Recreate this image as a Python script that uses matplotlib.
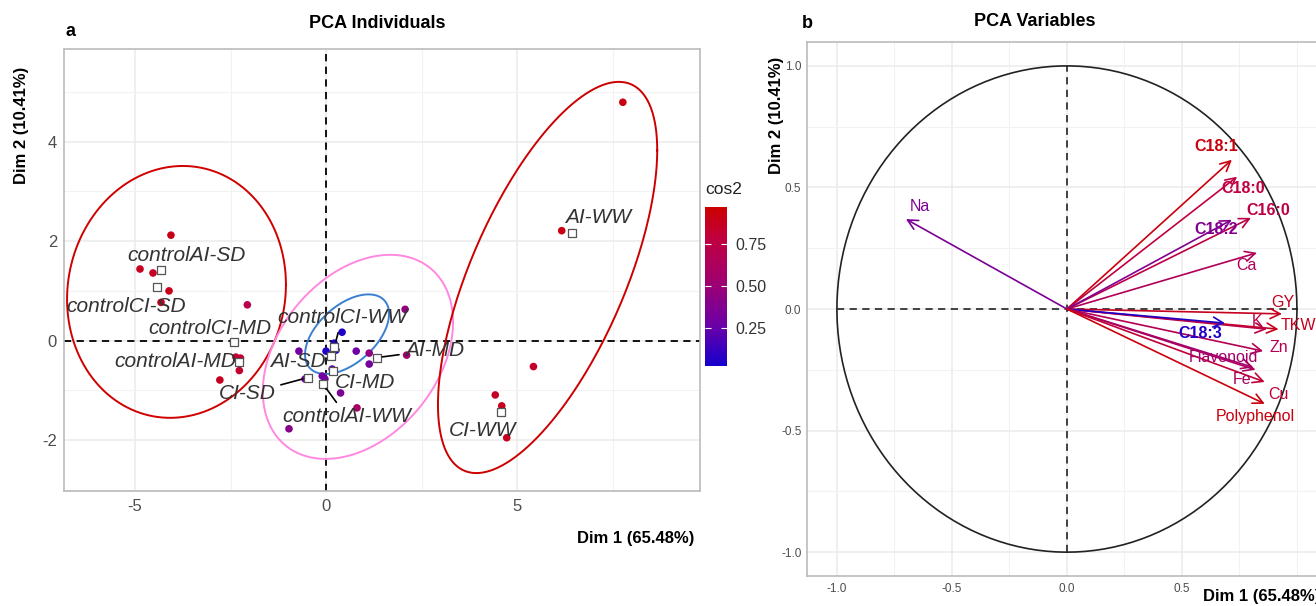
import numpy as np
import matplotlib
matplotlib.use("Agg")
import matplotlib.pyplot as plt
from matplotlib.colors import LinearSegmentedColormap, Normalize
from matplotlib.ticker import MultipleLocator, FixedLocator

plt.rcParams['font.family'] = ['Liberation Sans', 'DejaVu Sans']
plt.rcParams['axes.unicode_minus'] = False

# --- individuals (Dim1, Dim2, cos2) ---
ind_x = [-4.06, -4.87, -4.53, -4.11, -4.32, -2.06, -2.42, -2.36, -2.24, -2.27, -2.78,
         -0.71, 0.00, 0.21, 0.26, 0.42, 0.16, 0.79, 1.13, 1.13, 2.11, 2.07,
         -0.55, -0.10, -0.03, 0.38, 0.81, -0.97,
         7.77, 6.17, 5.43, 4.43, 4.60, 4.73]
ind_y = [2.12, 1.44, 1.36, 1.00, 0.77, 0.72, -0.05, -0.33, -0.35, -0.60, -0.79,
         -0.21, -0.21, -0.05, -0.19, 0.17, -0.57, -0.21, -0.25, -0.47, -0.29, 0.63,
         -0.77, -0.71, -0.77, -1.05, -1.35, -1.77,
         4.79, 2.21, -0.52, -1.09, -1.31, -1.95]
ind_cos2 = [0.90, 0.88, 0.86, 0.90, 0.88, 0.72, 0.85, 0.82, 0.82, 0.84, 0.88,
            0.30, 0.04, 0.06, 0.08, 0.05, 0.25, 0.28, 0.45, 0.32, 0.55, 0.45,
            0.30, 0.30, 0.30, 0.35, 0.60, 0.40,
            0.92, 0.92, 0.85, 0.85, 0.88, 0.88]

# group means and their label positions
grp_names = ["controlAI-SD", "controlCI-SD", "controlCI-MD", "controlAI-MD", "controlCI-WW",
             "AI-SD", "AI-MD", "CI-SD", "CI-MD", "controlAI-WW", "AI-WW", "CI-WW"]
grp_x = [-4.32, -4.42, -2.41, -2.28, 0.22, 0.12, 1.33, -0.47, 0.18, -0.08, 6.45, 4.58]
grp_y = [1.42, 1.07, -0.02, -0.43, -0.12, -0.31, -0.34, -0.74, -0.60, -0.87, 2.16, -1.43]
lab_x = [-3.66, -5.24, -3.04, -3.95, 0.42, -0.73, 2.83, -2.07, 1.02, 0.55, 7.12, 4.09]
lab_y = [1.72, 0.69, 0.25, -0.41, 0.46, -0.41, -0.19, -1.07, -0.85, -1.53, 2.48, -1.81]
lab_seg = [False, False, False, False, True, False, True, True, False, True, False, False]

# concentration ellipses: centre, spread, correlation
ell_cx = [-3.915, 0.835, 0.55, 5.80]
ell_cy = [0.98, -0.325, 0.13, 1.27]
ell_sx = [2.865, 2.49, 1.10, 2.87]
ell_sy = [2.53, 2.05, 0.80, 3.93]
ell_rho = [0.058, 0.34, 0.51, 0.65]
ell_colors = ['#D00000', '#FF88E0', '#3A7FD0', '#CC0000']

# --- variables ---
var_names = ["C18:1", "C18:0", "C16:0", "C18:2", "Ca", "Na", "GY", "TKW", "K", "C18:3",
             "Zn", "Flavonoid", "Fe", "Cu", "Polyphenol"]
var_x = [0.717, 0.74, 0.80, 0.717, 0.826, -0.70, 0.935, 0.92, 0.87, 0.687,
         0.853, 0.81, 0.82, 0.86, 0.86]
var_y = [0.614, 0.544, 0.375, 0.367, 0.231, 0.37, -0.02, -0.083, -0.083, -0.058,
         -0.173, -0.24, -0.25, -0.30, -0.39]
var_lab_x = [0.65, 0.765, 0.875, 0.65, 0.78, -0.64, 0.94, 1.005, 0.825, 0.58,
             0.92, 0.68, 0.76, 0.92, 0.82]
var_lab_y = [0.67, 0.495, 0.405, 0.326, 0.18, 0.42, 0.025, -0.066, -0.053, -0.10,
             -0.16, -0.20, -0.29, -0.35, -0.44]
var_val = [0.93, 0.78, 0.75, 0.38, 0.65, 0.35, 0.88, 0.88, 0.75, 0.05,
           0.68, 0.55, 0.62, 0.80, 0.93]
var_bold = [True, True, True, True, False, False, False, False, False, True,
            False, False, False, False, False]

W, H = 1316, 606


def fx(p):
    return p / W


def fy(p):
    return 1 - p / H


cmap = LinearSegmentedColormap.from_list(
    "cos2", [(0, '#1500CC'), (0.25, '#6A00A8'), (0.53, '#A00070'), (0.8, '#C00040'), (1, '#CC0000')])
norm = Normalize(vmin=0.02, vmax=0.97)

fig = plt.figure(figsize=(W / 100, H / 100), dpi=100)
fig.patch.set_facecolor('white')


def style_axes(ax, major, minor_x, minor_y, lab_size):
    ax.xaxis.set_major_locator(MultipleLocator(major[0]))
    ax.yaxis.set_major_locator(MultipleLocator(major[1]))
    ax.xaxis.set_minor_locator(MultipleLocator(minor_x))
    ax.yaxis.set_minor_locator(MultipleLocator(minor_y))
    ax.grid(True, which='major', color='#EBEBEB', lw=1.1, zorder=0)
    ax.grid(True, which='minor', color='#F2F2F2', lw=0.8, zorder=0)
    ax.set_axisbelow(True)
    for s in ax.spines.values():
        s.set_color('#BBBBBB')
        s.set_linewidth(1.2)
    ax.tick_params(which='both', length=0, labelsize=lab_size, labelcolor='#4D4D4D')
    ax.tick_params(axis='x', pad=6)
    ax.tick_params(axis='y', pad=5)


# ---------------- panel a ----------------
ax1 = fig.add_axes([fx(64), fy(491), (700 - 64) / W, (491 - 49) / H])
ax1.set_xlim(-6.86, 9.79)
ax1.set_ylim(-3.02, 5.86)
style_axes(ax1, (5, 2), 2.5, 1, 12)

ax1.axvline(0, color='black', ls=(0, (4, 3)), lw=1.3, zorder=1)
ax1.axhline(0, color='black', ls=(0, (4, 3)), lw=1.3, zorder=1)

t = np.linspace(0, 2 * np.pi, 300)
for cx, cy, sx, sy, r, c in zip(ell_cx, ell_cy, ell_sx, ell_sy, ell_rho, ell_colors):
    cov = np.array([[sx ** 2, r * sx * sy], [r * sx * sy, sy ** 2]])
    L = np.linalg.cholesky(cov)
    pts = L @ np.vstack([np.cos(t), np.sin(t)])
    ax1.plot(cx + pts[0], cy + pts[1], color=c, lw=1.4, zorder=2)

sc = ax1.scatter(ind_x, ind_y, c=ind_cos2, cmap=cmap, norm=norm, s=30, lw=0, zorder=3)
ax1.scatter(grp_x, grp_y, marker='s', s=40, facecolor='white', edgecolor='#555555',
            lw=0.9, zorder=4)

for name, gx, gy, lx, ly, seg in zip(grp_names, grp_x, grp_y, lab_x, lab_y, lab_seg):
    if seg:
        ax1.annotate(name, xy=(gx, gy), xytext=(lx, ly), ha='center', va='center',
                     fontsize=15, style='italic', color='#333333', zorder=5,
                     arrowprops=dict(arrowstyle='-', color='black', lw=1.2,
                                     shrinkA=2, shrinkB=4))
    else:
        ax1.text(lx, ly, name, ha='center', va='center', fontsize=15,
                 style='italic', color='#333333', zorder=5)

fig.text(fx(377), fy(23), "PCA Individuals", ha='center', va='center',
         fontsize=13, fontweight='bold')
fig.text(fx(66), fy(32), "a", ha='left', va='center', fontsize=13, fontweight='bold')
fig.text(fx(22), fy(125), "Dim 2 (10.41%)", rotation=90, ha='center', va='center',
         fontsize=12, fontweight='bold')
fig.text(fx(694), fy(539), "Dim 1 (65.48%)", ha='right', va='center',
         fontsize=12, fontweight='bold')

# colorbar
cax = fig.add_axes([fx(705), fy(366), 22 / W, (366 - 207) / H])
cb = fig.colorbar(sc, cax=cax, ticks=[0.25, 0.5, 0.75])
cb.outline.set_visible(False)
cb.ax.set_yticklabels(["0.25", "0.50", "0.75"])
cax.tick_params(axis='y', length=4, direction='in', color='white', left=True, right=True,
                labelsize=11.5, labelcolor='#333333', pad=6)
fig.text(fx(705), fy(190), "cos2", ha='left', va='center', fontsize=12.5, color='#222222')

# ---------------- panel b ----------------
ax2 = fig.add_axes([fx(807), fy(575.75), (1325 - 807) / W, (575.75 - 42.3) / H])
ax2.set_xlim(-1.13, 1.122)
ax2.set_ylim(-1.097, 1.097)
style_axes(ax2, (0.5, 0.5), 0.25, 0.25, 8.5)
# the 1.0 label sits under the axis title in the original
ax2.xaxis.set_major_locator(FixedLocator([-1.0, -0.5, 0.0, 0.5]))
ax2.tick_params(axis='x', pad=5)
ax2.tick_params(axis='y', pad=4)

ax2.plot(np.cos(t), np.sin(t), color='#222222', lw=1.2, zorder=2)
ax2.plot([-1, 1], [0, 0], color='#333333', ls=(0, (4, 3)), lw=1.3, zorder=1)
ax2.plot([0, 0], [-1, 1], color='#333333', ls=(0, (4, 3)), lw=1.3, zorder=1)

for name, vx, vy, lx, ly, v, b in zip(var_names, var_x, var_y, var_lab_x, var_lab_y,
                                      var_val, var_bold):
    col = cmap(norm(v))
    ax2.annotate("", xy=(vx, vy), xytext=(0, 0),
                 arrowprops=dict(arrowstyle='->,head_length=0.6,head_width=0.3',
                                 color=col, lw=1.2, shrinkA=0, shrinkB=0,
                                 mutation_scale=12), zorder=3)
    ax2.text(lx, ly, name, ha='center', va='center', fontsize=11.5, color=col,
             fontweight='bold' if b else 'normal', zorder=4)

fig.text(fx(1035), fy(22), "PCA Variables", ha='center', va='center',
         fontsize=13, fontweight='bold')
fig.text(fx(802), fy(24), "b", ha='left', va='center', fontsize=13, fontweight='bold')
fig.text(fx(776), fy(115), "Dim 2 (10.41%)", rotation=90, ha='center', va='center',
         fontsize=12, fontweight='bold')
fig.text(fx(1203), fy(597), "Dim 1 (65.48%)", ha='left', va='center',
         fontsize=12, fontweight='bold')

fig.savefig("out.png", dpi=100)
